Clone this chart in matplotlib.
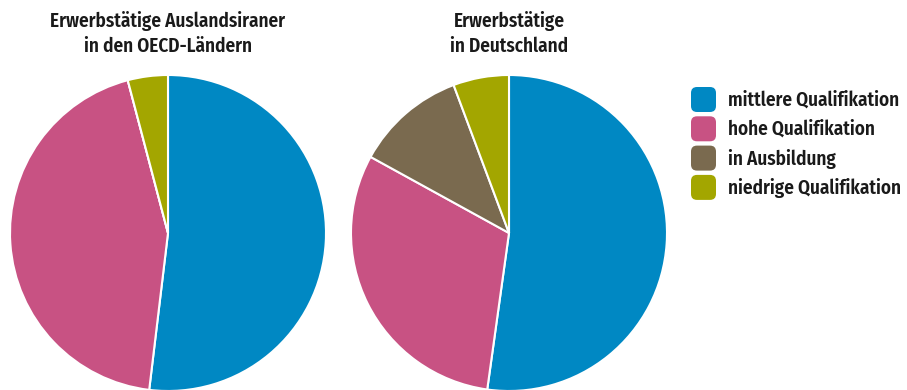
import matplotlib
matplotlib.use("Agg")
import matplotlib.pyplot as plt
from matplotlib.patches import FancyBboxPatch

plt.rcParams["font.family"] = ["Fira Sans Condensed", "DejaVu Sans"]

categories = ["mittlere Qualifikation", "hohe Qualifikation", "in Ausbildung", "niedrige Qualifikation"]
colors = ["#0088c3", "#c85283", "#7a6a4f", "#a3a600"]

oecd_values = [51.9, 44.0, 0.0, 4.1]
germany_values = [52.2, 30.8, 11.3, 5.7]

titles = ["Erwerbstätige Auslandsiraner\nin den OECD-Ländern", "Erwerbstätige\nin Deutschland"]

W, H = 907, 390
fig = plt.figure(figsize=(W / 100, H / 100), dpi=100)

# full-figure overlay in pixel units for titles and legend
overlay = fig.add_axes([0, 0, 1, 1], zorder=5)
overlay.set_xlim(0, W)
overlay.set_ylim(H, 0)
overlay.axis("off")
overlay.patch.set_alpha(0)


def add_pie(cx, cy, r, values, title):
    ax = fig.add_axes([(cx - r) / W, (H - cy - r) / H, 2 * r / W, 2 * r / H])
    ax.pie(values, colors=colors, startangle=90, counterclock=False, radius=1,
           wedgeprops=dict(edgecolor="white", linewidth=1.5))
    ax.set_xlim(-1, 1)
    ax.set_ylim(-1, 1)
    ax.set_aspect("equal")
    ax.axis("off")
    overlay.text(cx, 33.5, title, ha="center", va="center",
                 fontsize=13.8, fontweight=600, color="#1a1a1a", linespacing=1.4)


add_pie(168, 233, 158, oecd_values, titles[0])
add_pie(509, 233, 158, germany_values, titles[1])

# legend: rounded swatches with labels
y0 = 100
step = 29.3
for i, (lab, col) in enumerate(zip(categories, colors)):
    yc = y0 + i * step
    box = FancyBboxPatch((691, yc - 13), 25, 25,
                         boxstyle="round,pad=0,rounding_size=6",
                         facecolor=col, edgecolor="none")
    overlay.add_patch(box)
    overlay.text(728, yc, lab, ha="left", va="center",
                 fontsize=13.8, fontweight=600, color="#1a1a1a")

fig.savefig("out.png", dpi=100, facecolor="white")
